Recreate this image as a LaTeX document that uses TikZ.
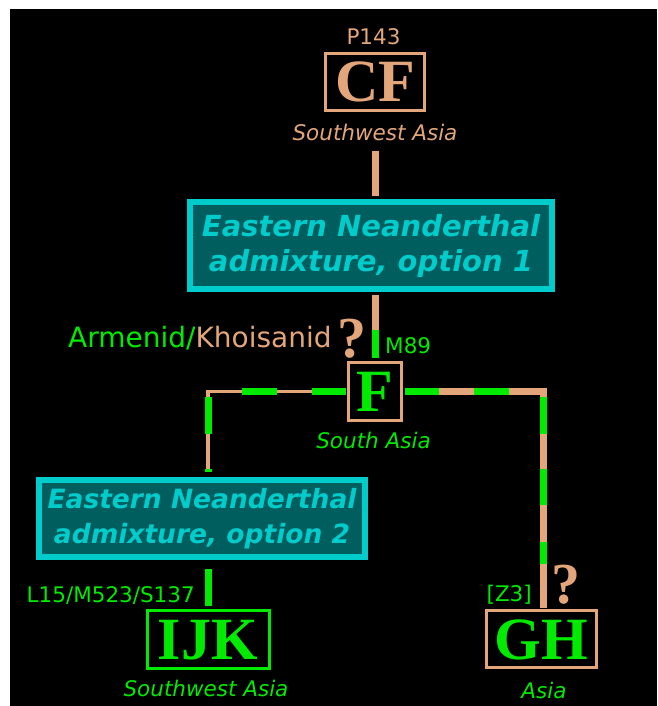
\documentclass[tikz,border=0pt]{standalone}
\usepackage{fontspec}
\setmainfont{DejaVu Sans}
\newfontfamily\hapfont{Liberation Serif}
\usetikzlibrary{positioning}
\definecolor{hapgreen}{RGB}{0,235,0}
\definecolor{haptan}{RGB}{226,166,122}
\definecolor{mixcyan}{RGB}{0,204,204}
\definecolor{mixteal}{RGB}{0,94,94}

\begin{document}
\begin{tikzpicture}[
    x=1pt, y=-1pt,
    every node/.style={inner sep=0pt},
    lbl/.style={font=\fontsize{21.5}{24}\selectfont, anchor=base},
    place/.style={font=\itshape\fontsize{21.5}{24}\selectfont, anchor=base},
    hap/.style={draw, line width=3pt, font=\hapfont\bfseries\fontsize{60}{60}\selectfont, text height=40pt, text depth=0pt},
    mix/.style={draw=mixcyan, fill=mixteal, line width=6pt, text=mixcyan, align=center},
    qmark/.style={font=\hapfont\bfseries\fontsize{58}{58}\selectfont, text=haptan, anchor=base},
    trunk/.style={line width=7pt},
    twig/.style={line width=3.5pt}
  ]
    % Frame
    \fill[white] (0,0) rectangle (657,706);
    \fill[black] (10,9) rectangle (657,706);
    \useasboundingbox (0,0) rectangle (657,706);

    % Haplogroup boxes
    \node[hap, draw=haptan, text=haptan, minimum width=99pt, minimum height=57pt] (cf) at (375,82) {CF};
    \node[hap, draw=haptan, text=hapgreen, minimum width=53pt, minimum height=58pt] (f) at (375,391.5) {F};
    \node[hap, draw=hapgreen, text=hapgreen, minimum width=122pt, minimum height=58pt] (ijk) at (208,639.5) {IJK};
    \node[hap, draw=haptan, text=hapgreen, minimum width=110pt, minimum height=57pt] (gh) at (541,639) {GH};

    % Admixture boxes
    \node[mix, font=\bfseries\itshape\fontsize{29}{35}\selectfont, minimum width=362pt, minimum height=87pt] (ena1) at (371,245.5) {Eastern Neanderthal\\admixture, option 1};
    \node[mix, font=\bfseries\itshape\fontsize{26.5}{35}\selectfont, minimum width=326pt, minimum height=77pt] (ena2) at (202,518.5) {Eastern Neanderthal\\admixture, option 2};

    % Mutation labels
    \node[lbl, text=haptan] (p143) at (373.5,45) {P143};
    \node[lbl, anchor=base west, text=haptan, font=\fontsize{28}{30}\selectfont] (armkhoi) at (68,347) {\textcolor{hapgreen}{Armenid/}Khoisanid};
    \node[qmark] (fq) at (352,357) {?};
    \node[lbl, anchor=base west, text=hapgreen] (m89) at (385,353) {M89};
    \node[lbl, anchor=base east, text=hapgreen] (l15) at (195,602) {L15/M523/S137};
    \node[lbl, anchor=base east, text=hapgreen] (z3) at (532,601) {[Z3]};
    \node[qmark] (ghq) at (566,603) {?};

    % Region labels
    \node[place, text=haptan] (cfloc) at (375,140) {Southwest Asia};
    \node[place, text=hapgreen] (floc) at (373.5,448) {South Asia};
    \node[place, text=hapgreen] (ijkloc) at (206,696) {Southwest Asia};
    \node[place, text=hapgreen] (ghloc) at (544,698) {Asia};

    % Branches
    \coordinate (m89pt) at (375,330);
    \coordinate (lcorner) at (208,391.5);
    \coordinate (rcorner) at (543,391.5);

    \draw[trunk, haptan, shorten <=10pt, shorten >=3pt] (cfloc.south) -- (cfloc.south |- ena1.north);
    \draw[trunk, haptan, shorten <=3pt] (ena1.south -| m89pt) -- (m89pt);
    \draw[trunk, hapgreen, shorten >=3.5pt] (m89pt) -- (f.north);

    \draw[twig, haptan, shorten <=1.5pt, shorten >=5pt] (f.west) -- (lcorner) -- (lcorner |- ena2.north);
    \draw[trunk, hapgreen, shorten <=1.5pt, shorten >=5pt, dash pattern=on 34pt off 35pt on 35pt off 38.5pt on 37pt off 35pt on 30pt off 30pt] (f.west) -- (lcorner) -- (lcorner |- ena2.north);

    \draw[trunk, haptan, shorten <=1.5pt, shorten >=1.5pt] (f.east) -- (rcorner) -- (rcorner |- gh.north);
    \draw[trunk, hapgreen, shorten <=1.5pt, dash pattern=on 34pt off 35pt on 35pt off 40pt on 37pt off 35pt on 36pt off 37pt on 22pt off 100pt] (f.east) -- (rcorner) -- (rcorner |- gh.north);

    \draw[trunk, hapgreen, shorten <=9pt, shorten >=3pt] (ena2.south -| ijk.north) -- (ijk.north);
  \end{tikzpicture}
\end{document}
